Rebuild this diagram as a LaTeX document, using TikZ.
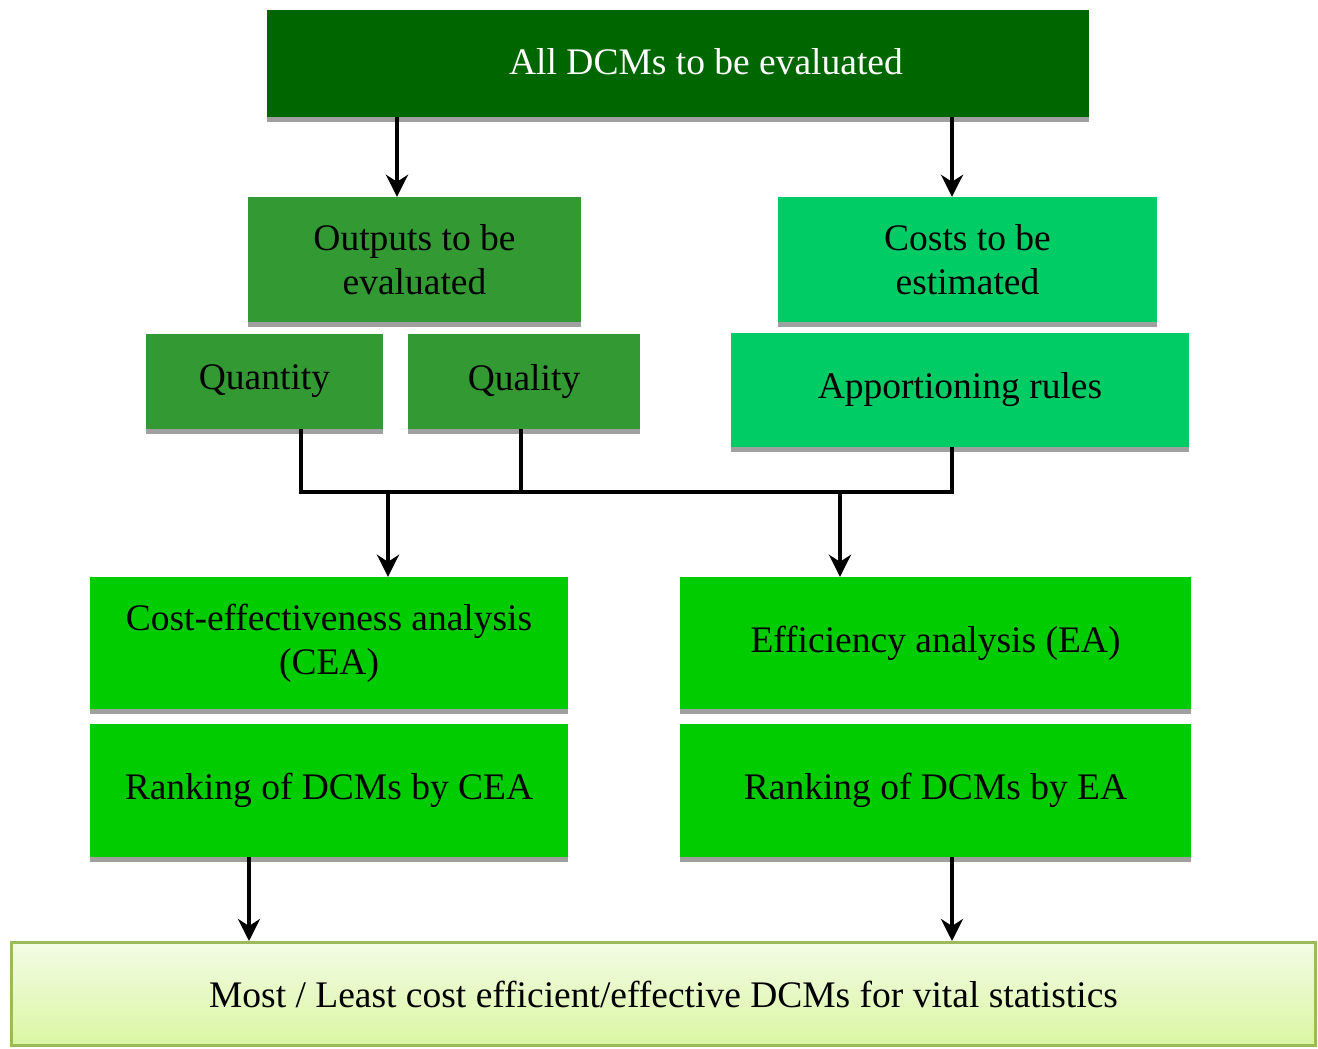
\documentclass[tikz,border=0pt]{standalone}
\usepackage{fontspec}
\setmainfont{Liberation Serif}
\usetikzlibrary{arrows.meta}
\definecolor{topgreen}{RGB}{0,102,0}
\definecolor{midgreen}{RGB}{51,153,51}
\definecolor{mintgreen}{RGB}{0,204,102}
\definecolor{brightgreen}{RGB}{0,204,0}
\definecolor{shadowgray}{RGB}{160,160,160}
\definecolor{olivebord}{RGB}{155,187,89}
\definecolor{palefilltop}{RGB}{243,251,229}
\definecolor{palefillbot}{RGB}{218,246,162}
\tikzset{
  box/.style={draw=none, inner sep=0pt, align=center, text=black,
    font=\fontsize{37.5}{44}\selectfont},
  lbl/.style={inner sep=0pt, align=center, font=\fontsize{37.5}{44}\selectfont},
  conn/.style={line width=4pt, line join=miter, black},
  arr/.style={conn, -{Stealth[length=22pt,width=22pt,inset=7pt]}},
}
\newcommand{\boxshadow}[1]{\fill[shadowgray] (#1.south west) rectangle ([yshift=-5pt]#1.south east);}
\begin{document}
\begin{tikzpicture}[x=1pt,y=-1pt]
\useasboundingbox (0,0) rectangle (1318,1049);
\fill[white] (0,0) rectangle (1318,1049);

% boxes
\node[box, fill=topgreen, minimum width=822pt, minimum height=107pt] (top) at (678,63.5) {};
\node[lbl, text=white] (toptxt) at (706,62) {All DCMs to be evaluated};

\node[box, fill=midgreen, minimum width=333pt, minimum height=125pt] (outp) at (414.5,259.5) {Outputs to be\\evaluated};
\node[box, fill=mintgreen, minimum width=379pt, minimum height=125pt] (cost) at (967.5,259.5) {Costs to be\\estimated};

\node[box, fill=midgreen, minimum width=237pt, minimum height=95pt] (qty) at (264.5,381.5) {Quantity};
\node[box, fill=midgreen, minimum width=232pt, minimum height=95pt] (qual) at (524,381.5) {Quality};
\node[box, fill=mintgreen, minimum width=458pt, minimum height=114pt] (ap) at (960,390) {Apportioning rules};

\node[box, fill=brightgreen, minimum width=478pt, minimum height=132pt] (cea) at (329,643) {Cost-effectiveness analysis\\(CEA)};
\node[box, fill=brightgreen, minimum width=511pt, minimum height=132pt] (ea) at (935.5,643) {Efficiency analysis (EA)};

\node[box, fill=brightgreen, minimum width=478pt, minimum height=133pt] (rcea) at (329,790.5) {Ranking of DCMs by CEA};
\node[box, fill=brightgreen, minimum width=511pt, minimum height=133pt] (rea) at (935.5,790.5) {Ranking of DCMs by EA};

\node[box, draw=olivebord, line width=3pt, top color=palefilltop, bottom color=palefillbot,
  minimum width=1304pt, minimum height=103pt] (res) at (663.5,994) {Most / Least cost efficient/effective DCMs for vital statistics};

% shadows
\boxshadow{top}
\boxshadow{outp}
\boxshadow{cost}
\boxshadow{qty}
\boxshadow{qual}
\boxshadow{ap}
\boxshadow{cea}
\boxshadow{ea}
\boxshadow{rcea}
\boxshadow{rea}

% connectors
\coordinate (xa) at (397,0);
\coordinate (xb) at (952,0);
\draw[arr] (top.south -| xa) -- (outp.north -| xa);
\draw[arr] (top.south -| xb) -- (cost.north -| xb);

\coordinate (j1) at (301,492);
\coordinate (j2) at (521,492);
\coordinate (j3) at (952,492);
\coordinate (ja) at (388,492);
\coordinate (jb) at (840,492);
\draw[conn] (qty.south -| j1) -- (j1) -- (j3) -- (ap.south -| j3);
\draw[conn] (qual.south -| j2) -- (j2);
\draw[arr] (ja) -- (cea.north -| ja);
\draw[arr] (jb) -- (ea.north -| jb);

\coordinate (xc) at (249,0);
\coordinate (xd) at (952,0);
\draw[arr] (rcea.south -| xc) -- (res.north -| xc);
\draw[arr] (rea.south -| xd) -- (res.north -| xd);
\end{tikzpicture}
\end{document}
